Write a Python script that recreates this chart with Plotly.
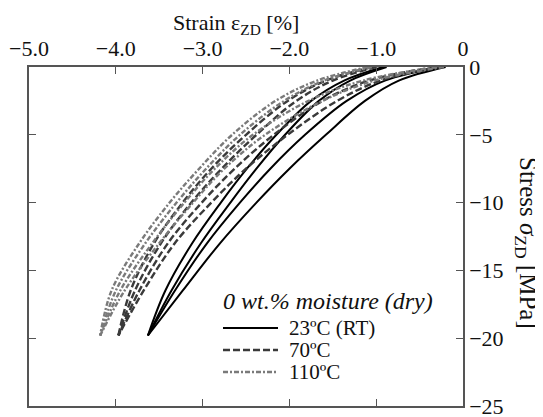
import plotly.graph_objects as go

# Stress levels (MPa) at which strain values were read
STRESS = [0, -1, -2.5, -5, -7.5, -10, -13, -16.5, -19.8]

# 23ºC (RT): loading (L) and unloading (U) branches, strain in %
RT_L1 = [-0.20, -0.74, -1.13, -1.58, -2.00, -2.38, -2.80, -3.23, -3.63]
RT_L2 = [-0.25, -0.90, -1.34, -1.82, -2.22, -2.57, -2.95, -3.32, -3.63]
RT_U2 = [-0.88, -1.30, -1.66, -2.05, -2.38, -2.68, -3.02, -3.36, -3.63]
RT_U1 = [-0.92, -1.37, -1.75, -2.15, -2.49, -2.79, -3.12, -3.43, -3.63]

# 70ºC
T70_L1 = [-0.28, -0.95, -1.45, -2.02, -2.50, -2.90, -3.32, -3.68, -3.97]
T70_L2 = [-0.32, -1.08, -1.62, -2.18, -2.63, -3.01, -3.40, -3.73, -3.97]
T70_U2 = [-1.00, -1.50, -1.92, -2.38, -2.78, -3.13, -3.48, -3.78, -3.97]
T70_U1 = [-1.05, -1.58, -2.02, -2.50, -2.90, -3.23, -3.56, -3.83, -3.97]

# 110ºC
T110_L1 = [-0.22, -1.02, -1.62, -2.28, -2.75, -3.11, -3.50, -3.90, -4.18]
T110_L2 = [-0.30, -1.15, -1.78, -2.42, -2.86, -3.21, -3.58, -3.95, -4.18]
T110_U2 = [-1.05, -1.60, -2.06, -2.57, -2.96, -3.30, -3.66, -4.00, -4.18]
T110_U1 = [-1.10, -1.68, -2.16, -2.66, -3.04, -3.38, -3.73, -4.05, -4.18]

X_TICKS = [-5, -4, -3, -2, -1, 0]
X_TICKTEXT = ["\u22125.0", "\u22124.0", "\u22123.0", "\u22122.0", "\u22121.0", "0"]
Y_TICKS = [0, -5, -10, -15, -20, -25]
Y_TICKTEXT = ["0", "\u22125", "\u221210", "\u221215", "\u221220", "\u221225"]

LEGEND_TITLE = "0 wt.% moisture (dry)"
GROUPS = [
    ("23ºC (RT)", [RT_L1, RT_L2, RT_U2, RT_U1], dict(color="#000000", width=2.0, dash="solid")),
    ("70ºC", [T70_L1, T70_L2, T70_U2, T70_U1], dict(color="#3a3a3a", width=2.4, dash="7px,3px")),
    ("110ºC", [T110_L1, T110_L2, T110_U2, T110_U1], dict(color="#7a7a7a", width=2.4, dash="5px,2px,2px,2px")),
]

FONT = "Liberation Serif"

# The page has an 8px body margin, so all pixel positions below are in
# figure coordinates (page minus 8).
W, H = 543, 417
L, R, T, B = 21, 455, 59, 398


def px_x(px):
    return (px - L) / (R - L)


def px_y(py):
    return (B - py) / (B - T)


fig = go.Figure()
for name, curves, style in GROUPS:
    for strain in curves:
        fig.add_trace(go.Scatter(
            x=strain, y=STRESS, mode="lines", name=name,
            showlegend=False,
            line=dict(shape="spline", smoothing=1.0, **style),
        ))

axis_common = dict(
    showgrid=False, zeroline=False, showline=True, linecolor="#555555", linewidth=1.5,
    ticks="inside", ticklen=7, tickwidth=1.3, tickcolor="#555555", mirror="ticks",
    tickfont=dict(family=FONT, size=22, color="#111111"), automargin=False,
    ticklabeloverflow="allow",
)

annotations = [
    dict(text="Strain ε<sub>ZD</sub> [%]", xref="paper", yref="paper",
         x=px_x(228), y=px_y(16), xanchor="center", yanchor="middle", showarrow=False,
         font=dict(family=FONT, size=22, color="#111111")),
    dict(text="Stress <i>σ</i><sub>ZD</sub> [MPa]", textangle=90,
         xref="paper", yref="paper", x=px_x(519), y=px_y(235),
         xanchor="center", yanchor="middle", showarrow=False,
         font=dict(family=FONT, size=25, color="#111111")),
    dict(text="<i>" + LEGEND_TITLE + "</i>", xref="paper", yref="paper",
         x=px_x(213), y=px_y(293), xanchor="left", yanchor="middle", showarrow=False,
         font=dict(family=FONT, size=24, color="#111111")),
]
shapes = []
legend_rows = [320, 342, 364]
for (name, curves, style), ry in zip(GROUPS, legend_rows):
    shapes.append(dict(type="line", xref="paper", yref="paper",
                       x0=px_x(215), x1=px_x(270), y0=px_y(ry), y1=px_y(ry),
                       line=dict(color=style["color"], width=style["width"], dash=style["dash"])))
    annotations.append(dict(text=name, xref="paper", yref="paper",
                            x=px_x(279), y=px_y(ry), xanchor="left", yanchor="middle",
                            showarrow=False, font=dict(family=FONT, size=21, color="#111111")))

fig.update_layout(
    width=W, height=H,
    margin=dict(l=L, r=W - R, t=T, b=H - B, autoexpand=False),
    paper_bgcolor="white", plot_bgcolor="white",
    font=dict(family=FONT, size=22, color="#111111"),
    xaxis=dict(range=[-5, 0], side="top", tickvals=X_TICKS, ticktext=X_TICKTEXT, **axis_common),
    yaxis=dict(range=[-25, 0], side="right", tickvals=Y_TICKS, ticktext=Y_TICKTEXT,
               **axis_common),
    showlegend=False,
    annotations=annotations,
    shapes=shapes,
)

fig.write_html("out.html")
